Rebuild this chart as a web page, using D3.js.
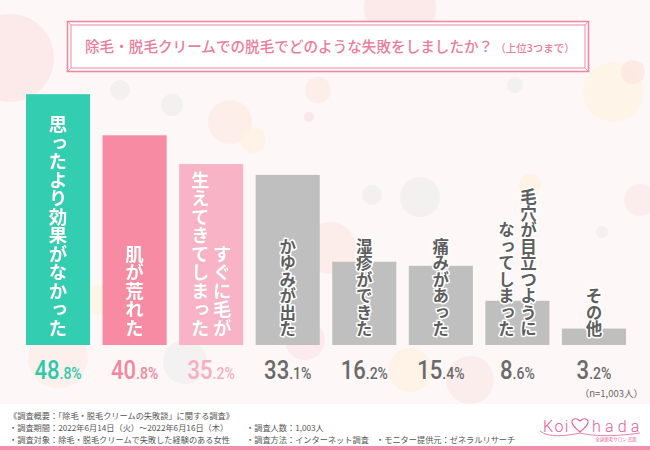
<!DOCTYPE html>
<html>
<head>
<meta charset="utf-8">
<script src="https://cdn.jsdelivr.net/npm/d3@7"></script>
<style>
  html, body { margin: 0; padding: 0; background: #fdf8f7; }
  svg { display: block; font-family: "Noto Sans CJK JP", sans-serif; }
</style>
</head>
<body>
<div id="chart"></div>
<script>
// Data
const categories = [
    "思ったより効果がなかった",
    "肌が荒れた",
    "すぐに毛が\n生えてきてしまった",
    "かゆみが出た",
    "湿疹ができた",
    "痛みがあった",
    "毛穴が目立つように\nなってしまった",
    "その他"
];
const values = [48.8, 40.8, 35.2, 33.1, 16.2, 15.4, 8.6, 3.2];
const titleText = "除毛・脱毛クリームでの脱毛でどのような失敗をしましたか？";
const titleNote = "（上位3つまで）";
const sampleNote = "（n=1,003人）";
const footerLines = [
    "《調査概要：「除毛・脱毛クリームの失敗談」に関する調査》",
    "・調査期間：2022年6月14日（火）～2022年6月16日（木）",
    "・調査対象：除毛・脱毛クリームで失敗した経験のある女性"
];
const footerLines2 = ["・調査人数：1,003人", "・調査方法：インターネット調査"];
const footerLine3 = "・モニター提供元：ゼネラルリサーチ";

const width = 650, height = 450;
const barColors = ["#33cdb1", "#f78ba3", "#f8b3c7", "#bfbfbf", "#bfbfbf", "#bfbfbf", "#bfbfbf", "#bfbfbf"];
const textColors = ["#2fc9aa", "#f4879f", "#f6aec3", "#6a6a6a", "#6a6a6a", "#6a6a6a", "#6a6a6a", "#6a6a6a"];

const svg = d3.select("#chart")
    .append("svg")
    .attr("width", width)
    .attr("height", height);

const defs = svg.append("defs");
defs.append("filter")
    .attr("id", "soft")
    .attr("x", "-20%").attr("y", "-20%").attr("width", "140%").attr("height", "140%")
    .append("feDropShadow")
    .attr("dx", 0).attr("dy", 0)
    .attr("stdDeviation", 0.7)
    .attr("flood-color", "#000")
    .attr("flood-opacity", 0.35);

// background decoration (soft bubbles)
const decor = [
    [10, 58, 44, "#fbe4e6"], [400, 8, 36, "#fbe5e7"], [120, 90, 10, "#efeeee"],
    [172, 105, 11, "#efefee"], [230, 122, 22, "#fcebe6"], [253, 140, 13, "#fdf2e0"],
    [309, 117, 5, "#fbe1e6"], [318, 90, 13, "#fcebe6"], [515, 85, 8, "#efefee"],
    [613, 92, 30, "#fdf3e2"], [633, 72, 12, "#fbe6e0"], [372, 195, 10, "#efefee"],
    [420, 197, 20, "#efefee"], [530, 185, 11, "#fdf2de"], [602, 232, 6, "#efefee"],
    [330, 248, 26, "#fbe8e6"], [640, 200, 16, "#fbeaea"], [58, 358, 30, "#fcece7"],
    [185, 362, 22, "#efefef"], [305, 340, 20, "#fbe6e8"], [410, 370, 22, "#fdf2e0"],
    [470, 380, 24, "#fbeaea"], [215, 310, 18, "#fbece8"], [100, 300, 15, "#fdf3e2"]
];
svg.append("g")
    .selectAll("circle")
    .data(decor)
    .join("circle")
    .attr("cx", d => d[0])
    .attr("cy", d => d[1])
    .attr("r", d => d[2])
    .attr("fill", d => d[3])
    .attr("opacity", 0.75);

// Title frame
const tb = { x: 67.5, y: 21.5, w: 521, h: 50, i: 3.5 };
const frame = svg.append("g").attr("stroke", "#ef88a3").attr("fill", "none");
frame.append("rect").attr("x", tb.x).attr("y", tb.y).attr("width", tb.w).attr("height", tb.h)
    .attr("fill", "#fff").attr("stroke-width", 1.6);
frame.append("rect").attr("x", tb.x + tb.i).attr("y", tb.y + tb.i)
    .attr("width", tb.w - 2 * tb.i).attr("height", tb.h - 2 * tb.i).attr("stroke-width", 1);
[[0, 0, 1, 1], [1, 0, -1, 1], [0, 1, 1, -1], [1, 1, -1, -1]].forEach(c => {
    const x0 = tb.x + c[0] * tb.w, y0 = tb.y + c[1] * tb.h;
    frame.append("line").attr("x1", x0).attr("y1", y0)
        .attr("x2", x0 + c[2] * tb.i).attr("y2", y0 + c[3] * tb.i).attr("stroke-width", 0.8);
});
const title = svg.append("text")
    .attr("x", 85).attr("y", 52)
    .attr("fill", "#ea7d9a")
    .style("font-weight", 500);
title.append("tspan").attr("font-size", 14.6).text(titleText);
title.append("tspan").attr("font-size", 10.5).attr("dx", 2).text(titleNote);

// Scales
const x = d3.scaleBand()
    .domain(categories)
    .range([26, 626])
    .paddingInner(0.163)
    .paddingOuter(0);
const y = d3.scaleLinear()
    .domain([0, 50])
    .range([345, 88]);

// Bars
svg.selectAll(".bar")
    .data(values)
    .join("rect")
    .attr("class", "bar")
    .attr("x", (d, i) => x(categories[i]))
    .attr("y", d => y(d))
    .attr("width", x.bandwidth())
    .attr("height", d => y(0) - y(d))
    .attr("fill", (d, i) => barColors[i]);

// Vertical labels inside bars
const colGap = 22;
categories.forEach((c, i) => {
    const cols = c.split("\n");
    const cx = x(c) + x.bandwidth() / 2;
    const colored = i < 3;
    cols.forEach((t, j) => {
        const tx = cx + (cols.length - 1) / 2 * colGap - j * colGap;
        const txt = svg.append("text")
            .attr("x", tx)
            .attr("y", 337)
            .style("writing-mode", "vertical-rl")
            .attr("text-anchor", "end")
            .attr("font-size", colored ? 18.5 : 16.5)
            .style("font-weight", 700)
            .text(t);
        if (colored) {
            txt.attr("fill", "#fff").attr("filter", "url(#soft)");
        } else {
            txt.attr("fill", "#5e5e5e")
                .attr("stroke", "#fff").attr("stroke-width", 3)
                .attr("stroke-linejoin", "round")
                .style("paint-order", "stroke");
        }
    });
});

// Percent labels under bars
values.forEach((v, i) => {
    const parts = v.toFixed(1).split(".");
    const cx = x(categories[i]) + x.bandwidth() / 2;
    const g = svg.append("g")
        .attr("transform", `translate(${cx},379) scale(0.85,1)`);
    const t = g.append("text")
        .attr("text-anchor", "middle")
        .attr("fill", textColors[i])
        .style("font-family", "Roboto, sans-serif")
        .style("font-weight", 500);
    t.append("tspan").attr("font-size", 26).text(parts[0]);
    t.append("tspan").attr("font-size", 16.5).text("." + parts[1] + "%");
});

svg.append("text")
    .attr("x", 643).attr("y", 397)
    .attr("text-anchor", "end")
    .attr("font-size", 9.5)
    .attr("fill", "#666")
    .text(sampleNote);

// Footer
svg.append("rect").attr("x", 0).attr("y", 404).attr("width", width).attr("height", 42).attr("fill", "#fff");
svg.append("rect").attr("x", 0).attr("y", 446).attr("width", width).attr("height", 4).attr("fill", "#f28fab");
const foot = svg.append("g")
    .attr("font-size", 8.2)
    .attr("fill", "#555");
footerLines.forEach((l, i) => {
    foot.append("text").attr("x", 9).attr("y", 419 + i * 12).text(l);
});
footerLines2.forEach((l, i) => {
    foot.append("text").attr("x", 246).attr("y", 431 + i * 12).text(l);
});
foot.append("text").attr("x", 376).attr("y", 443).text(footerLine3);

// Logo
const logo = svg.append("g").attr("fill", "#e45d9b");
logo.append("text").attr("x", 543).attr("y", 432)
    .attr("font-size", 16).style("font-family", "Roboto, sans-serif")
    .style("font-weight", 300).attr("letter-spacing", 1.5).text("Koi");
logo.append("path")
    .attr("d", "M580,432 C574,427 571,424 572,421 C573,418 577,418 580,421 C583,418 587,418 588,421 C589,424 586,427 580,432 Z")
    .attr("fill", "none").attr("stroke", "#e45d9b").attr("stroke-width", 1.1);
logo.append("text").attr("x", 592).attr("y", 432)
    .attr("font-size", 16).style("font-family", "Roboto, sans-serif")
    .style("font-weight", 300).attr("letter-spacing", 4.2).text("hada");
logo.append("path")
    .attr("d", "M540,431 C548,438 566,436 580,433 C592,436 612,437 640,433")
    .attr("fill", "none").attr("stroke", "#e45d9b").attr("stroke-width", 0.8);
logo.append("text").attr("x", 616).attr("y", 441)
    .attr("font-size", 4.5).attr("text-anchor", "middle").text("全身脱毛サロン 恋肌");
</script>
</body>
</html>
